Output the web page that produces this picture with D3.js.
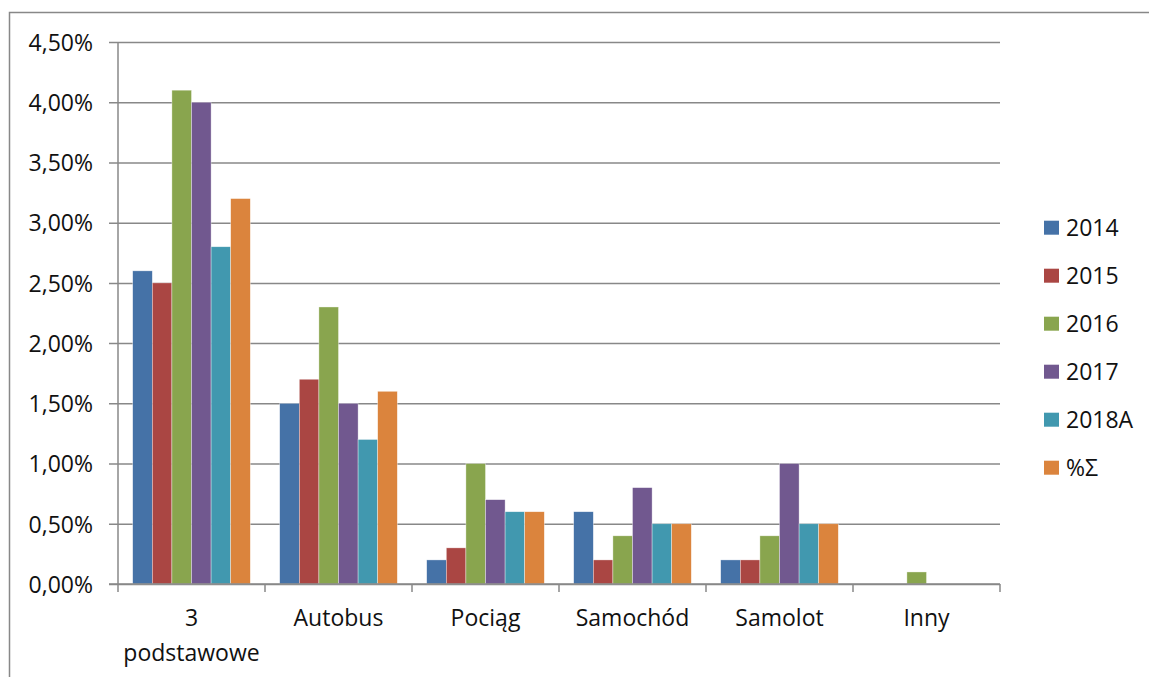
<!DOCTYPE html>
<html><head><meta charset="utf-8">
<script src="https://cdn.jsdelivr.net/npm/d3@7"></script>
<style>
html,body{margin:0;padding:0;background:#fff;}
svg{display:block;font-family:"Open Sans",sans-serif;}
</style></head>
<body><svg id="c" width="1149" height="677"></svg>
<script>
const categories = ["3\npodstawowe","Autobus","Pociąg","Samochód","Samolot","Inny"];
const seriesNames = ["2014","2015","2016","2017","2018A","%Σ"];
const s2014  = [2.6, 1.5, 0.2, 0.6, 0.2, 0];
const s2015  = [2.5, 1.7, 0.3, 0.2, 0.2, 0];
const s2016  = [4.1, 2.3, 1.0, 0.4, 0.4, 0.1];
const s2017  = [4.0, 1.5, 0.7, 0.8, 1.0, 0];
const s2018A = [2.8, 1.2, 0.6, 0.5, 0.5, 0];
const sPct   = [3.2, 1.6, 0.6, 0.5, 0.5, 0];
const yTicks = [0,0.5,1,1.5,2,2.5,3,3.5,4,4.5];
const colors = ["#4572A7","#AA4643","#89A54E","#71588F","#4198AF","#DB843D"];
const seriesValues = [s2014,s2015,s2016,s2017,s2018A,sPct];

const svg = d3.select("#c");
const L=118, R=1000, T=42, B=584;
const gridCol="#888888";

// outer border
svg.append("rect").attr("x",9.5).attr("y",12.5).attr("width",1200).attr("height",700)
  .attr("fill","none").attr("stroke",gridCol).attr("stroke-width",1.5);

const x0 = d3.scaleBand().domain(categories).range([L,R]).padding(0);
const x1 = d3.scaleBand().domain(seriesNames).range([x0.bandwidth()*0.1, x0.bandwidth()*0.9]).padding(0);
const y = d3.scaleLinear().domain([0,4.5]).range([B,T]);

// gridlines + y labels
const yAxis = d3.axisLeft(y).tickValues(yTicks).tickSize(-(R-L)).tickSizeOuter(0)
  .tickFormat(d => d3.format(".2f")(d).replace(".", ",") + "%");
const gy = svg.append("g").attr("transform",`translate(${L},0)`).call(yAxis);
gy.select(".domain").remove();
gy.selectAll(".tick line").attr("stroke",gridCol).attr("stroke-width",1.5).attr("x1",-9);
gy.selectAll(".tick text").attr("x",-25).attr("dy","0.36em").attr("font-size",23)
  .attr("font-family","'Open Sans',sans-serif").attr("fill","#111");

// bars
const data = categories.map((c,i)=>({c, vals: seriesNames.map((s,j)=>({s, v: seriesValues[j][i], col: colors[j]}))}));
const groups = svg.append("g").selectAll("g").data(data).join("g")
  .attr("transform", d=>`translate(${x0(d.c)},0)`);
groups.selectAll("rect").data(d=>d.vals.filter(v=>v.v>0)).join("rect")
  .attr("x", d=>x1(d.s)).attr("width", x1.bandwidth())
  .attr("y", d=>y(d.v)).attr("height", d=>B-y(d.v))
  .attr("fill", d=>d.col).attr("stroke","rgba(255,255,255,0.6)").attr("stroke-width",0.6);

// y axis line
svg.append("line").attr("x1",L).attr("x2",L).attr("y1",T).attr("y2",B)
  .attr("stroke",gridCol).attr("stroke-width",1.5);

// x axis
svg.append("line").attr("x1",L-9).attr("x2",R).attr("y1",B).attr("y2",B)
  .attr("stroke",gridCol).attr("stroke-width",1.5);
const bounds = categories.map(c=>x0(c)).concat([R]);
svg.append("g").selectAll("line").data(bounds).join("line")
  .attr("x1",d=>d).attr("x2",d=>d).attr("y1",B).attr("y2",B+8)
  .attr("stroke",gridCol).attr("stroke-width",1.5);

const xl = svg.append("g").selectAll("text").data(categories).join("text")
  .attr("x", d=>x0(d)+x0.bandwidth()/2).attr("y",626)
  .attr("text-anchor","middle").attr("font-size",23).attr("fill","#111");
xl.each(function(d){
  const lines = d.split("\n");
  d3.select(this).selectAll("tspan").data(lines).join("tspan")
    .attr("x", x0(d)+x0.bandwidth()/2).attr("dy",(l,i)=>i===0?0:35).text(l=>l);
});

// legend
const lg = svg.append("g").selectAll("g").data(seriesNames).join("g")
  .attr("transform",(d,i)=>`translate(1044,${227.7+i*48})`);
lg.append("rect").attr("x",0).attr("y",-7).attr("width",15).attr("height",14)
  .attr("fill",(d,i)=>colors[i]);
lg.append("text").attr("x",22).attr("dy","0.36em").attr("font-size",23).attr("fill","#111").text(d=>d);
</script>
</body></html>
